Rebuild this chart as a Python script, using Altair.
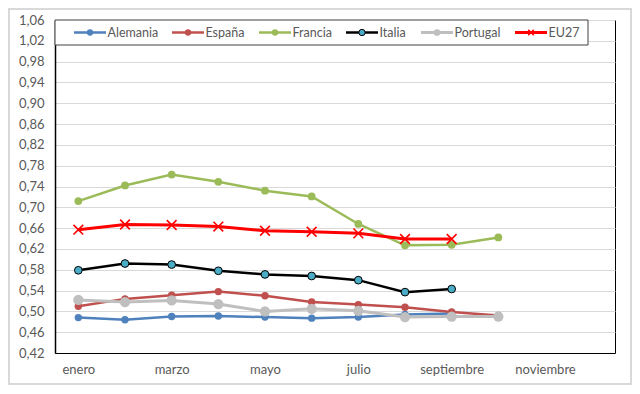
import altair as alt
import pandas as pd

# ---------------- data ----------------
months = ["enero", "febrero", "marzo", "abril", "mayo", "junio", "julio",
          "agosto", "septiembre", "octubre", "noviembre", "diciembre"]
series_names = ["Alemania", "España", "Francia", "Italia", "Portugal", "EU27"]

alemania = [0.488, 0.484, 0.490, 0.491, 0.489, 0.487, 0.489, 0.494, 0.496, None, None, None]
espana = [0.510, 0.524, 0.531, 0.538, 0.530, 0.518, 0.513, 0.508, 0.499, 0.492, None, None]
francia = [0.712, 0.742, 0.763, 0.749, 0.732, 0.721, 0.668, 0.627, 0.628, 0.642, None, None]
italia = [0.579, 0.592, 0.590, 0.578, 0.571, 0.568, 0.560, 0.537, 0.543, None, None, None]
portugal = [0.522, 0.518, 0.521, 0.514, 0.500, 0.505, 0.501, 0.489, 0.490, 0.490, None, None]
eu27 = [0.657, 0.667, 0.666, 0.663, 0.655, 0.653, 0.650, 0.639, 0.639, None, None, None]

y_ticks = [0.42, 0.46, 0.50, 0.54, 0.58, 0.62, 0.66, 0.70, 0.74, 0.78,
           0.82, 0.86, 0.90, 0.94, 0.98, 1.02, 1.06]
x_labels = ["enero", "marzo", "mayo", "julio", "septiembre", "noviembre"]

all_values = [alemania, espana, francia, italia, portugal, eu27]
rows = []
for name, vals in zip(series_names, all_values):
    for m, v in zip(months, vals):
        if v is not None:
            rows.append({"mes": m, "serie": name, "valor": v})
df = pd.DataFrame(rows)

# ---------------- styles ----------------
X_PATH = "M-1,-1L1,1M-1,1L1,-1"
styles = {
    "Alemania": dict(line="#4F81BD", fill="#4F81BD", stroke="#4F81BD", sw=0, size=55, lsize=40, shape="circle", lw=2.5),
    "España": dict(line="#C0504D", fill="#C0504D", stroke="#C0504D", sw=0, size=55, lsize=40, shape="circle", lw=2.5),
    "Francia": dict(line="#9BBB59", fill="#9BBB59", stroke="#9BBB59", sw=0, size=60, lsize=40, shape="circle", lw=2.5),
    "Italia": dict(line="#000000", fill="#4BACC6", stroke="#000000", sw=1, size=60, lsize=40, shape="circle", lw=2.5),
    "Portugal": dict(line="#BFBFBF", fill="#BFBFBF", stroke="#BFBFBF", sw=0, size=105, lsize=45, shape="circle", lw=3),
    "EU27": dict(line="#FF0000", fill="#FF0000", stroke="#FF0000", sw=1.6, size=95, lsize=30, shape=X_PATH, lw=3),
}

FONT = "Lato"
TEXT_COLOR = "#595959"
W, H = 560, 333

x_enc = alt.X(
    "mes:N",
    sort=months,
    scale=alt.Scale(type="point", domain=months, padding=0.5),
    axis=alt.Axis(values=x_labels, title=None, labelAngle=0, ticks=False, grid=False,
                  domainColor="#000000", domainWidth=1, labelPadding=10,
                  labelFont=FONT, labelFontSize=13, labelColor=TEXT_COLOR),
)
y_enc = alt.Y(
    "valor:Q",
    scale=alt.Scale(domain=[0.42, 1.06], nice=False, zero=False),
    axis=alt.Axis(values=y_ticks, title=None, ticks=False, grid=True,
                  gridColor="#D9D9D9", gridWidth=1, domainColor="#000000", domainWidth=1.5,
                  labelPadding=11, labelFont=FONT, labelFontSize=13, labelColor=TEXT_COLOR,
                  labelExpr="replace(format(datum.value, '.2f'), '.', ',')"),
)

layers = []
one_row = alt.Data(values=[{}])

# outer light border (decoration)
layers.append(
    alt.Chart(one_row).mark_rect(fill="transparent", stroke="#D9D9D9", strokeWidth=2).encode(
        x=alt.value(-46), x2=alt.value(576), y=alt.value(-11), y2=alt.value(364)
    )
)

for name in series_names:
    st = styles[name]
    base = alt.Chart(df).transform_filter(alt.datum.serie == name)
    layers.append(base.mark_line(color=st["line"], strokeWidth=st["lw"]).encode(x=x_enc, y=y_enc))
    layers.append(base.mark_point(filled=False, fill=st["fill"], fillOpacity=1, stroke=st["stroke"],
                                  strokeWidth=st["sw"], opacity=1, size=st["size"], shape=st["shape"])
                  .encode(x=x_enc, y=y_enc))

# ---------------- legend (drawn as marks) ----------------
LEG_W, LEG_H = 533, 25
layers.append(
    alt.Chart(one_row).mark_rect(fill="white", stroke="#404040", strokeWidth=1).encode(
        x=alt.value(0), x2=alt.value(LEG_W), y=alt.value(0), y2=alt.value(LEG_H)
    )
)
leg_starts = [19, 117, 204, 291, 366, 460]
seg = 32
ly = 12.5
for name, x0 in zip(series_names, leg_starts):
    st = styles[name]
    layers.append(alt.Chart(one_row).mark_rule(color=st["line"], strokeWidth=st["lw"]).encode(
        x=alt.value(x0), x2=alt.value(x0 + seg), y=alt.value(ly)))
    layers.append(alt.Chart(one_row).mark_point(filled=False, fill=st["fill"], fillOpacity=1,
                                                stroke=st["stroke"], strokeWidth=st["sw"], opacity=1,
                                                size=st["lsize"], shape=st["shape"]).encode(
        x=alt.value(x0 + seg / 2), y=alt.value(ly)))
    layers.append(alt.Chart(one_row).mark_text(text=name, align="left", baseline="middle",
                                               font=FONT, fontSize=12.5, color=TEXT_COLOR).encode(
        x=alt.value(x0 + seg + 1.5), y=alt.value(ly)))

chart = alt.layer(*layers).properties(
    width=W, height=H,
    padding={"left": 47, "top": 12, "right": 17, "bottom": 33},
    autosize=alt.AutoSizeParams(type="none"),
    background="white",
).configure_view(stroke="#000000", strokeWidth=1)

chart.save("out.html", embed_options={"renderer": "svg", "actions": False})
